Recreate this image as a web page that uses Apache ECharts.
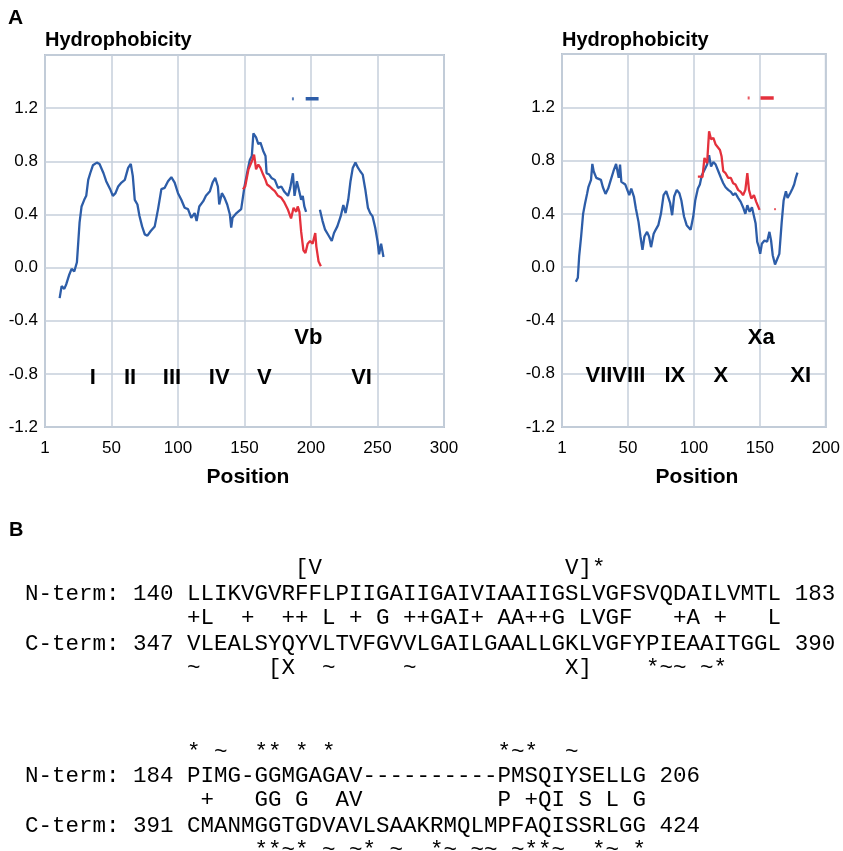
<!DOCTYPE html>
<html><head><meta charset="utf-8">
<script src="https://cdn.jsdelivr.net/npm/echarts@6/dist/echarts.min.js"></script>
<style>html,body{margin:0;padding:0;background:#fff}#c{width:843px;height:851px}</style>
</head><body><div id="c"></div>
<script>
// ---------- Panel A data (position, hydrophobicity) ----------
const leftBlueA = [[11,-0.23],[12.5,-0.14],[14.5,-0.16],[16,-0.125],[18,-0.06],[20,-0.01],[22,-0.03],[24,0.04],[25,0.19],[26,0.34],[27.5,0.46],[29.5,0.51],[31,0.54],[32.5,0.66],[34,0.71],[36,0.77],[39,0.79],[41,0.78],[44,0.71],[46,0.65],[49,0.59],[51,0.54],[53,0.56],[55,0.61],[57.5,0.64],[60,0.66],[62.5,0.75],[64.5,0.78],[66,0.69],[67.5,0.51],[69.5,0.475],[71,0.39],[73,0.31],[75,0.25],[77,0.24],[79.5,0.275],[82.5,0.31],[85,0.44],[87.5,0.59],[90,0.60],[92.5,0.65],[95,0.68],[97.5,0.64],[100,0.56],[102.5,0.51],[105,0.45],[107.5,0.44],[110,0.375],[112.5,0.41],[114,0.35],[116,0.46],[119,0.50],[121,0.54],[124,0.575],[126,0.64],[128,0.675],[130,0.61],[131,0.475],[133,0.56],[135,0.525],[137,0.475],[139,0.40],[140,0.30],[141,0.375],[144,0.41],[147.5,0.44],[150,0.61],[152.5,0.74],[154,0.81],[155.5,0.84],[156.7,1.01],[158.7,0.98],[160.4,0.93],[162,0.94],[164,0.88],[165.8,0.84],[166.6,0.71],[168.6,0.70],[170.3,0.675],[172.8,0.66],[175.2,0.60],[177.7,0.61],[180,0.57],[182.7,0.54],[184.4,0.60],[186.4,0.71],[187.6,0.54],[189.4,0.65],[190.8,0.59],[192.6,0.51],[193.8,0.54],[195,0.46],[196.3,0.42]];
const leftBlueB = [[206.7,0.435],[208.7,0.35],[210.6,0.285],[213,0.245],[215.6,0.20],[217.3,0.26],[219.8,0.31],[222.3,0.385],[224.3,0.47],[226,0.41],[228,0.51],[229.7,0.65],[231.4,0.75],[233.4,0.79],[235.4,0.75],[237,0.725],[238.9,0.70],[240.8,0.59],[242.8,0.45],[244.5,0.41],[246.3,0.385],[248.3,0.30],[250,0.20],[251.2,0.10],[252.7,0.18],[254.5,0.08]];
const leftRed = [[148.8,0.59],[150.5,0.61],[153,0.74],[155.5,0.80],[157.2,0.85],[158.7,0.74],[160.4,0.775],[162,0.75],[164,0.70],[165.8,0.66],[167,0.625],[169,0.61],[171,0.59],[172.8,0.575],[175.2,0.54],[177.7,0.525],[180,0.49],[182.7,0.435],[185,0.37],[186.9,0.45],[188.9,0.42],[190,0.46],[191.3,0.42],[192.6,0.27],[194.3,0.13],[195.8,0.11],[197.5,0.18],[199.3,0.20],[201.2,0.18],[203.2,0.26],[204,0.16],[205.7,0.045],[207.4,0.01]];
const leftMarkDot = [[186.4,1.27]];
const leftMarkBar = [[196,1.27],[205.7,1.27]];

const rightBlue = [[10.5,-0.11],[12,-0.08],[13,0.08],[14.5,0.23],[16,0.40],[17.5,0.48],[19,0.55],[20,0.60],[22,0.655],[23,0.775],[24,0.72],[26,0.67],[27.5,0.675],[29.5,0.655],[31,0.60],[33,0.55],[35,0.59],[37,0.655],[39,0.72],[41,0.775],[42,0.76],[43,0.67],[44,0.77],[45,0.64],[46,0.63],[48,0.62],[49.5,0.63],[51,0.54],[52.5,0.59],[54.5,0.53],[56,0.44],[58,0.34],[59.5,0.23],[61,0.13],[62.5,0.23],[64.5,0.265],[66,0.23],[67.5,0.15],[69.5,0.25],[71,0.28],[73,0.315],[75,0.40],[77,0.54],[79,0.57],[80.5,0.58],[82,0.48],[83.5,0.39],[85,0.53],[87,0.58],[89,0.555],[90.5,0.50],[92.5,0.38],[94.5,0.315],[96,0.30],[97.5,0.28],[99.5,0.38],[101,0.50],[103,0.59],[104.5,0.62],[106,0.69],[108,0.73],[110,0.77],[111.5,0.84],[113,0.755],[114.75,0.79],[116.5,0.77],[118.5,0.72],[120.5,0.67],[122.25,0.63],[124,0.60],[126,0.58],[128,0.565],[129.75,0.54],[131.5,0.555],[133.5,0.52],[135.5,0.49],[137.25,0.45],[139,0.40],[140.5,0.465],[142.25,0.415],[144,0.45],[145.5,0.44],[146.75,0.33],[148,0.19],[149.25,0.15],[150.25,0.10],[151.5,0.175],[153.5,0.20],[155.5,0.19],[157.25,0.265],[158.5,0.20],[159.75,0.09],[161.5,0.02],[163,0.025],[164.75,0.10],[166.5,0.33],[168,0.50],[169.75,0.57],[171,0.52],[173,0.555],[174.75,0.59],[176,0.62],[177.25,0.67],[178.5,0.71]];
const rightRed = [[103,0.68],[104.75,0.68],[106.5,0.675],[108,0.82],[110,0.78],[111.5,1.02],[113,0.96],[114.75,0.97],[116.5,0.92],[118,0.93],[119.75,0.88],[121,0.83],[122.25,0.72],[124,0.705],[126,0.67],[128,0.67],[129.75,0.63],[131.5,0.62],[133.5,0.58],[135.5,0.565],[137.25,0.54],[139,0.58],[140.5,0.705],[141.75,0.58],[143.5,0.515],[145.5,0.54],[147.25,0.49],[148.5,0.48],[149.75,0.43]];
const rightRedDot = [[161.5,0.435]];
const rightMarkDot = [[141.5,1.27]];
const rightMarkBar = [[150.5,1.27],[160.5,1.27]];

// helix labels [position, value, text]
const leftLabels = [[36,-0.83,'I'],[64,-0.83,'II'],[95.5,-0.83,'III'],[131,-0.83,'IV'],[165,-0.83,'V'],[198,-0.53,'Vb'],[238,-0.83,'VI']];
const rightLabels = [[40.5,-0.82,'VIIVIII'],[85.5,-0.82,'IX'],[120.5,-0.82,'X'],[151,-0.53,'Xa'],[181,-0.82,'XI']];

// axis settings
const leftXMax = 300, rightXMax = 200, xStep = 50;
const yMin = -1.2, yMax = 1.6, yStep = 0.4;

// ---------- Panel B alignment text ----------
const prefix = '            ';
const nTerm1 = 'N-term: 140 LLIKVGVRFFLPIIGAIIGAIVIAAIIGSLVGFSVQDAILVMTL 183';
const cTerm1 = 'C-term: 347 VLEALSYQYVLTVFGVVLGAILGAALLGKLVGFYPIEAAITGGL 390';
const nTerm2 = 'N-term: 184 PIMG-GGMGAGAV----------PMSQIYSELLG 206';
const cTerm2 = 'C-term: 391 CMANMGGTGDVAVLSAAKRMQLMPFAQISSRLGG 424';
const above1 = [[8,'[V'],[28,'V]*']];
const match1 = [[0,'+L'],[4,'+'],[7,'++'],[10,'L'],[12,'+'],[14,'G'],[16,'++GAI+'],[23,'AA++G'],[29,'LVGF'],[36,'+A'],[39,'+'],[43,'L']];
const below1 = [[0,'~'],[6,'[X'],[10,'~'],[16,'~'],[28,'X]'],[34,'*~~'],[38,'~*']];
const above2 = [[0,'*'],[2,'~'],[5,'**'],[8,'*'],[10,'*'],[23,'*~*'],[28,'~']];
const match2 = [[1,'+'],[5,'GG'],[8,'G'],[11,'AV'],[23,'P'],[25,'+QI'],[29,'S'],[31,'L'],[33,'G']];
const below2 = [[5,'**~*'],[10,'~'],[12,'~*'],[15,'~'],[18,'*~'],[21,'~~'],[24,'~**~'],[30,'*~'],[33,'*']];

function place(items){ let s=''; items.forEach(([c,t])=>{ while(s.length<c) s+=' '; s+=t; }); return prefix+s; }
const alignRows = [
  place(above1), nTerm1, place(match1), cTerm1, place(below1),
  place(above2), nTerm2, place(match2), cTerm2, place(below2)
];
const rowY = [568,594,618,644,668,752,776,800,826,850];

// ---------- chart ----------
const SANS = '"Liberation Sans", Arial, Helvetica, sans-serif';
const MONO = '"Liberation Mono", "DejaVu Sans Mono", monospace';
const BLUE = '#2d5da8', RED = '#e4313c', GRID = '#c6cfdb';

const chart = echarts.init(document.getElementById('c'), null, {renderer:'canvas'});

function xAxisCfg(gi, max){
  return {type:'value', gridIndex:gi, min:0, max:max, interval:xStep,
    axisLine:{show:false}, axisTick:{show:false},
    splitLine:{show:true, lineStyle:{color:GRID, width:1.5}},
    axisLabel:{fontSize:17, color:'#000', fontFamily:SANS, margin:13,
      formatter:v=> v===0 ? '1' : String(v)}};
}
function yAxisCfg(gi){
  return {type:'value', gridIndex:gi, min:yMin, max:yMax, interval:yStep,
    axisLine:{show:false}, axisTick:{show:false},
    splitLine:{show:true, lineStyle:{color:GRID, width:1.5}},
    axisLabel:{fontSize:17, color:'#000', fontFamily:SANS, margin:7,
      formatter:v=> Math.abs(v-1.6)<1e-6 ? '' : (Math.abs(v)<1e-9?0:v).toFixed(1)}};
}
function lineS(data, gi, color, w, z){
  return {type:'line', xAxisIndex:gi, yAxisIndex:gi, data:data, symbol:'none',
    lineStyle:{color:color, width:w}, itemStyle:{color:color}, z:z||2, silent:true, animation:false};
}
function dotS(data, gi, color, size){
  return {type:'scatter', xAxisIndex:gi, yAxisIndex:gi, data:data, symbol:'rect',
    symbolSize:size, itemStyle:{color:color}, z:4, silent:true, animation:false};
}
function labelS(items, gi){
  return {type:'scatter', xAxisIndex:gi, yAxisIndex:gi, symbolSize:1,
    itemStyle:{color:'rgba(0,0,0,0)'}, silent:true, animation:false, z:5,
    data:items.map(d=>({value:[d[0],d[1]], name:d[2]})),
    label:{show:true, position:'inside', formatter:p=>p.name, color:'#000', opacity:1,
      textBorderWidth:0, fontSize:22, fontWeight:'bold', fontFamily:SANS}};
}

const graphics = [
  {type:'text', x:8, y:18, style:{text:'A', font:'bold 21px '+SANS, fill:'#000', align:'left', verticalAlign:'middle', textAlign:'left', textVerticalAlign:'middle'}},
  {type:'text', x:9, y:530, style:{text:'B', font:'bold 20px '+SANS, fill:'#000', align:'left', verticalAlign:'middle', textAlign:'left', textVerticalAlign:'middle'}},
  {type:'text', x:45, y:40, style:{text:'Hydrophobicity', font:'bold 20px '+SANS, fill:'#000', align:'left', verticalAlign:'middle', textAlign:'left', textVerticalAlign:'middle'}},
  {type:'text', x:562, y:40, style:{text:'Hydrophobicity', font:'bold 20px '+SANS, fill:'#000', align:'left', verticalAlign:'middle', textAlign:'left', textVerticalAlign:'middle'}},
  {type:'text', x:248, y:477, style:{text:'Position', font:'bold 21px '+SANS, fill:'#000', align:'center', verticalAlign:'middle', textAlign:'center', textVerticalAlign:'middle'}},
  {type:'text', x:697, y:477, style:{text:'Position', font:'bold 21px '+SANS, fill:'#000', align:'center', verticalAlign:'middle', textAlign:'center', textVerticalAlign:'middle'}}
];
alignRows.forEach((t,i)=>{
  graphics.push({type:'text', x:25, y:rowY[i], style:{text:t, font:'22.5px '+MONO, fill:'#000',
    align:'left', verticalAlign:'middle', textAlign:'left', textVerticalAlign:'middle'}});
});

chart.setOption({
  animation:false,
  backgroundColor:'#fff',
  grid:[
    {left:45, top:55, width:399, height:372, show:true, borderColor:'#b9c3d0', borderWidth:2, backgroundColor:'#fff'},
    {left:562, top:54, width:266, height:373, show:true, borderColor:'#b9c3d0', borderWidth:2, backgroundColor:'#fff'}
  ],
  xAxis:[xAxisCfg(0,leftXMax), xAxisCfg(1,rightXMax)],
  yAxis:[yAxisCfg(0), yAxisCfg(1)],
  series:[
    lineS(leftBlueA,0,BLUE,2.3), lineS(leftBlueB,0,BLUE,2.3), lineS(leftRed,0,RED,2.3,3),
    dotS(leftMarkDot,0,BLUE,[2,3]), lineS(leftMarkBar,0,BLUE,3.5,4),
    lineS(rightBlue,1,BLUE,2.3), lineS(rightRed,1,RED,2.3,3),
    dotS(rightRedDot,1,RED,[2,2]), dotS(rightMarkDot,1,RED,[2,3]), lineS(rightMarkBar,1,RED,3.5,4),
    labelS(leftLabels,0), labelS(rightLabels,1)
  ],
  graphic:graphics
});
</script></body></html>
